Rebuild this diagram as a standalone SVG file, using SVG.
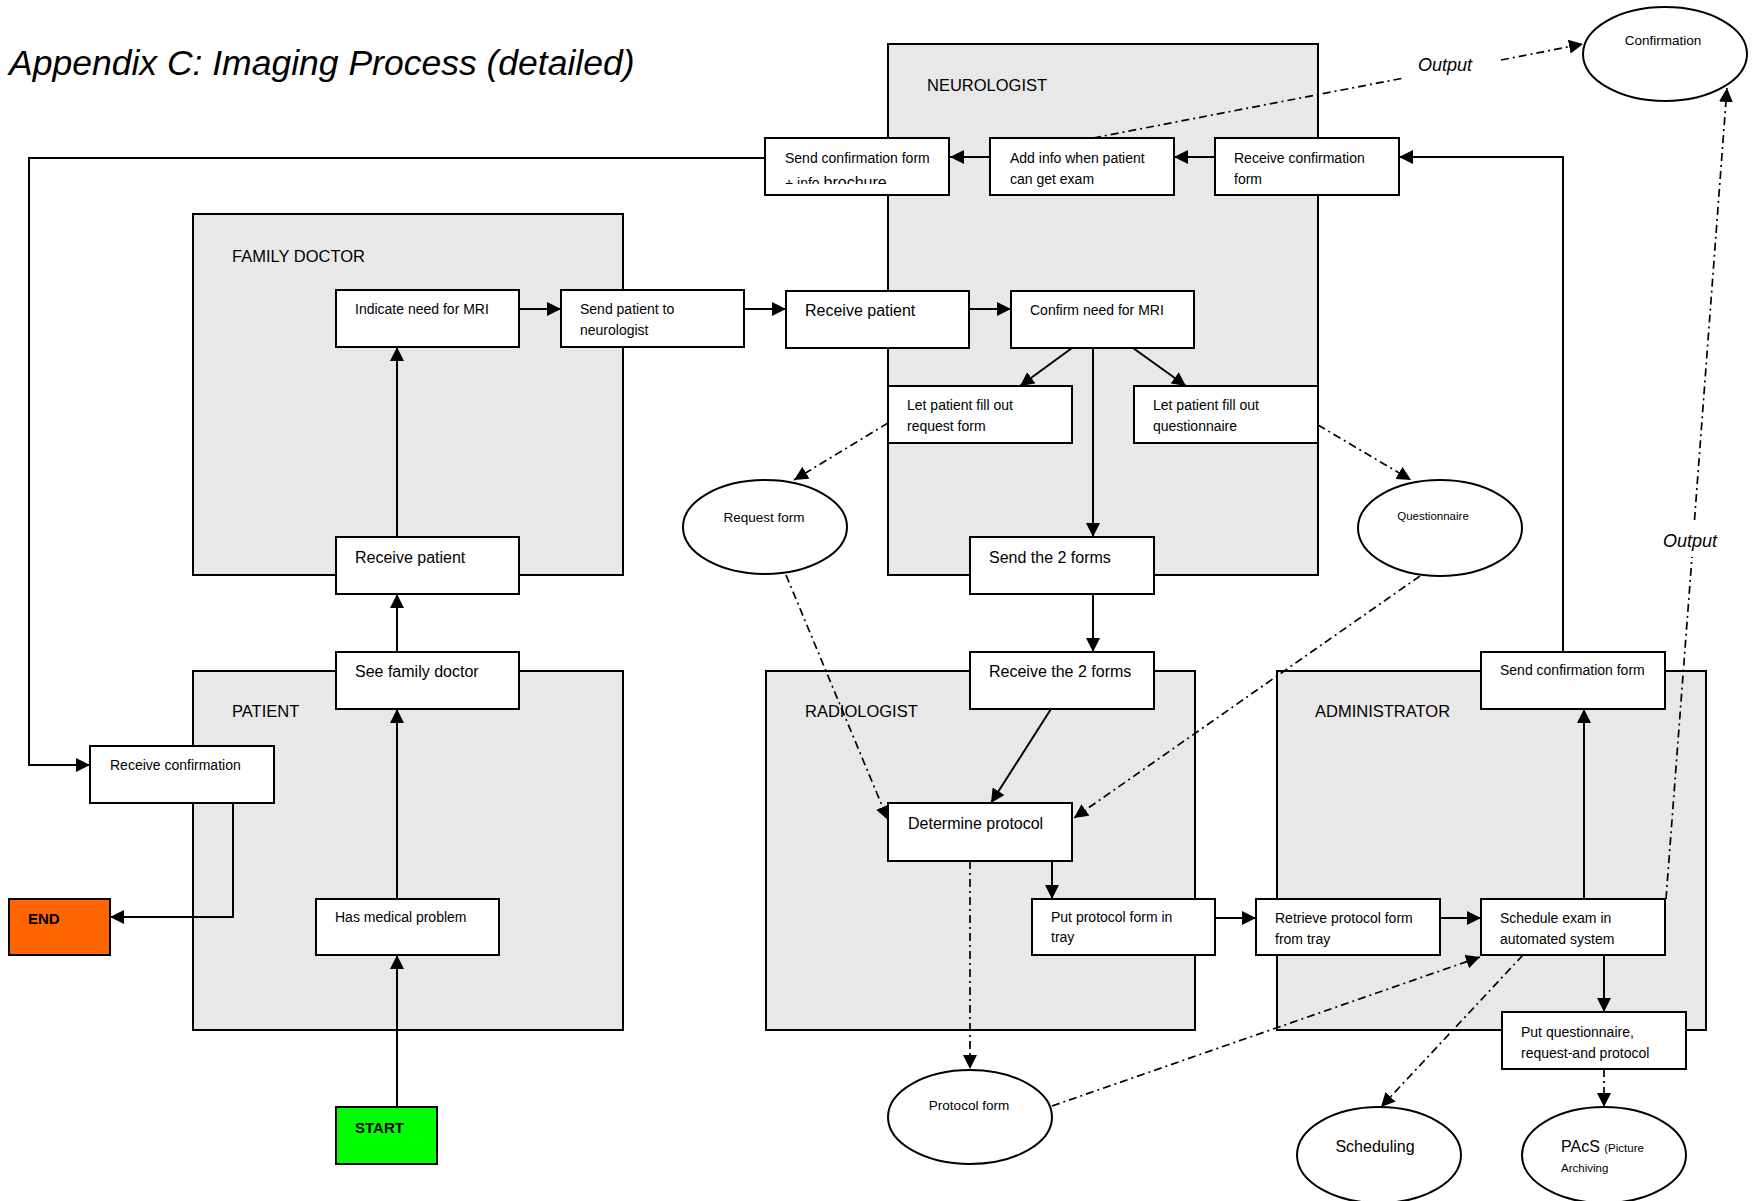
<svg xmlns="http://www.w3.org/2000/svg" width="1762" height="1201" viewBox="0 0 1762 1201">
  <style>
    text { font-family: "Liberation Sans", Arial, sans-serif; fill: #000; }
    .title { font-size: 35.5px; font-style: italic; }
    .lane rect { fill: #e8e8e8; stroke: #000; stroke-width: 2; }
    .lane text { font-size: 16.5px; }
    .box rect { fill: #fff; stroke: #000; stroke-width: 2; }
    .box ellipse { fill: #fff; stroke: #000; stroke-width: 2; }
    .s { font-size: 14px; }
    .m { font-size: 16px; }
    .xs { font-size: 11.5px; }
    .e { font-size: 13.5px; text-anchor: middle; }
    .b { font-size: 15px; font-weight: bold; }
    .out { font-size: 18px; font-style: italic; }
    .flow path { fill: none; stroke: #000; stroke-width: 2; }
    .flow path.dd { stroke-width: 1.7; stroke-dasharray: 8 4 2 4; }
  </style>
  <defs>
    <marker id="arr" markerWidth="14" markerHeight="14" refX="14" refY="7" orient="auto" markerUnits="userSpaceOnUse">
      <path d="M0,0 L14,7 L0,14 z" fill="#000"/>
    </marker>
    <clipPath id="clipBrochure"><rect x="765" y="138" width="185" height="46"/></clipPath>
  </defs>

  <rect width="1762" height="1201" fill="#fff"/>

  <text class="title" x="9" y="75">Appendix C: Imaging Process (detailed)</text>

  <!-- swimlanes -->
  <g id="lane-neurologist" class="lane"><rect x="888" y="44" width="430" height="531"/><text x="927" y="91">NEUROLOGIST</text></g>
  <g id="lane-family-doctor" class="lane"><rect x="193" y="214" width="430" height="361"/><text x="232" y="262">FAMILY DOCTOR</text></g>
  <g id="lane-patient" class="lane"><rect x="193" y="671" width="430" height="359"/><text x="232" y="717">PATIENT</text></g>
  <g id="lane-radiologist" class="lane"><rect x="766" y="671" width="429" height="359"/><text x="805" y="717">RADIOLOGIST</text></g>
  <g id="lane-administrator" class="lane"><rect x="1277" y="671" width="429" height="359"/><text x="1315" y="717">ADMINISTRATOR</text></g>

  <!-- connectors -->
  <g id="connectors" class="flow">
    <path d="M397,1107 L397,955" marker-end="url(#arr)"/>
    <path d="M397,899 L397,709" marker-end="url(#arr)"/>
    <path d="M397,652 L397,594" marker-end="url(#arr)"/>
    <path d="M397,537 L397,347" marker-end="url(#arr)"/>
    <path d="M519,309 L561,309" marker-end="url(#arr)"/>
    <path d="M744,309 L786,309" marker-end="url(#arr)"/>
    <path d="M969,309 L1011,309" marker-end="url(#arr)"/>
    <path d="M1072,348 L1020,386" marker-end="url(#arr)"/>
    <path d="M1133,348 L1186,386" marker-end="url(#arr)"/>
    <path d="M1093,348 L1093,537" marker-end="url(#arr)"/>
    <path d="M1093,594 L1093,652" marker-end="url(#arr)"/>
    <path d="M1051,709 L991,803" marker-end="url(#arr)"/>
    <path d="M1052,861 L1052,899" marker-end="url(#arr)"/>
    <path d="M1215,918 L1256,918" marker-end="url(#arr)"/>
    <path d="M1440,918 L1481,918" marker-end="url(#arr)"/>
    <path d="M1584,899 L1584,709" marker-end="url(#arr)"/>
    <path d="M1604,955 L1604,1012" marker-end="url(#arr)"/>
    <path d="M1563,652 L1563,157 L1399,157" marker-end="url(#arr)"/>
    <path d="M1215,157 L1174,157" marker-end="url(#arr)"/>
    <path d="M990,157 L950,157" marker-end="url(#arr)"/>
    <path d="M765,158 L29,158 L29,765 L90,765" marker-end="url(#arr)"/>
    <path d="M233,803 L233,917 L110,917" marker-end="url(#arr)"/>

    <!-- information flows (dash-dot) -->
    <path class="dd" d="M1093,138 L1404,78"/>
    <path class="dd" d="M1501,60 L1583,44" marker-end="url(#arr)"/>
    <path class="dd" d="M888,423 L794,480" marker-end="url(#arr)"/>
    <path class="dd" d="M1318,425 L1411,480" marker-end="url(#arr)"/>
    <path class="dd" d="M786,575 L888,820" marker-end="url(#arr)"/>
    <path class="dd" d="M1420,576 L1074,818" marker-end="url(#arr)"/>
    <path class="dd" d="M970,861 L970,1069" marker-end="url(#arr)"/>
    <path class="dd" d="M1052,1106 L1480,957" marker-end="url(#arr)"/>
    <path class="dd" d="M1523,955 L1381,1107" marker-end="url(#arr)"/>
    <path class="dd" d="M1604,1069 L1604,1107" marker-end="url(#arr)"/>
    <path class="dd" d="M1666,899 L1692,557"/>
    <path class="dd" d="M1694.5,520 L1727,88" marker-end="url(#arr)"/>
  </g>

  <text class="out" x="1418" y="71">Output</text>
  <text class="out" x="1663" y="547">Output</text>

  <!-- neurologist -->
  <g id="send-confirmation-brochure" class="box"><rect x="765" y="138" width="184" height="57"/>
    <text class="s" x="785" y="163">Send confirmation form</text>
    <text x="785" y="188" clip-path="url(#clipBrochure)"><tspan class="s">+ info </tspan><tspan class="m">brochure</tspan></text></g>
  <g id="add-info" class="box"><rect x="990" y="138" width="184" height="57"/>
    <text class="s" x="1010" y="163">Add info when patient</text><text class="s" x="1010" y="184">can get exam</text></g>
  <g id="receive-confirmation-form" class="box"><rect x="1215" y="138" width="184" height="57"/>
    <text class="s" x="1234" y="163">Receive confirmation</text><text class="s" x="1234" y="184">form</text></g>
  <g id="receive-patient-neuro" class="box"><rect x="786" y="291" width="183" height="57"/>
    <text class="m" x="805" y="316">Receive patient</text></g>
  <g id="confirm-need" class="box"><rect x="1011" y="291" width="183" height="57"/>
    <text class="s" x="1030" y="315">Confirm need for MRI</text></g>
  <g id="fill-request" class="box"><rect x="888" y="386" width="184" height="57"/>
    <text class="s" x="907" y="410">Let patient fill out</text><text class="s" x="907" y="431">request form</text></g>
  <g id="fill-questionnaire" class="box"><rect x="1134" y="386" width="184" height="57"/>
    <text class="s" x="1153" y="410">Let patient fill out</text><text class="s" x="1153" y="431">questionnaire</text></g>
  <g id="send-forms" class="box"><rect x="970" y="537" width="184" height="57"/>
    <text class="m" x="989" y="563">Send the 2 forms</text></g>

  <!-- family doctor -->
  <g id="indicate-need" class="box"><rect x="336" y="290" width="183" height="57"/>
    <text class="s" x="355" y="314">Indicate need for MRI</text></g>
  <g id="send-patient" class="box"><rect x="561" y="290" width="183" height="57"/>
    <text class="s" x="580" y="314">Send patient to</text><text class="s" x="580" y="335">neurologist</text></g>
  <g id="receive-patient-fd" class="box"><rect x="336" y="537" width="183" height="57"/>
    <text class="m" x="355" y="563">Receive patient</text></g>

  <!-- patient -->
  <g id="see-family-doctor" class="box"><rect x="336" y="652" width="183" height="57"/>
    <text class="m" x="355" y="677">See family doctor</text></g>
  <g id="receive-confirmation" class="box"><rect x="90" y="746" width="184" height="57"/>
    <text class="s" x="110" y="770">Receive confirmation</text></g>
  <g id="has-problem" class="box"><rect x="316" y="899" width="183" height="56"/>
    <text class="s" x="335" y="922">Has medical problem</text></g>
  <g id="start" class="box"><rect x="336" y="1107" width="101" height="57" style="fill:#00ff00"/>
    <text class="b" x="355" y="1133">START</text></g>
  <g id="end" class="box"><rect x="9" y="899" width="101" height="56" style="fill:#ff6600"/>
    <text class="b" x="28" y="924">END</text></g>

  <!-- radiologist -->
  <g id="receive-forms" class="box"><rect x="970" y="652" width="184" height="57"/>
    <text class="m" x="989" y="677">Receive the 2 forms</text></g>
  <g id="determine-protocol" class="box"><rect x="888" y="803" width="184" height="58"/>
    <text class="m" x="908" y="829">Determine protocol</text></g>
  <g id="put-protocol" class="box"><rect x="1032" y="899" width="183" height="56"/>
    <text class="s" x="1051" y="922">Put protocol form in</text><text class="s" x="1051" y="942">tray</text></g>

  <!-- administrator -->
  <g id="retrieve-protocol" class="box"><rect x="1256" y="899" width="184" height="56"/>
    <text class="s" x="1275" y="923">Retrieve protocol form</text><text class="s" x="1275" y="944">from tray</text></g>
  <g id="schedule-exam" class="box"><rect x="1481" y="899" width="184" height="56"/>
    <text class="s" x="1500" y="923">Schedule exam in</text><text class="s" x="1500" y="944">automated system</text></g>
  <g id="send-confirmation-form" class="box"><rect x="1481" y="652" width="184" height="57"/>
    <text class="s" x="1500" y="675">Send confirmation form</text></g>
  <g id="put-questionnaire" class="box"><rect x="1502" y="1012" width="184" height="57"/>
    <text class="s" x="1521" y="1037">Put questionnaire,</text><text class="s" x="1521" y="1058">request-and protocol</text></g>

  <!-- documents / systems -->
  <g id="doc-confirmation" class="box"><ellipse cx="1665" cy="54" rx="82" ry="47"/>
    <text class="e" x="1663" y="45">Confirmation</text></g>
  <g id="doc-request" class="box"><ellipse cx="765" cy="527" rx="82" ry="47"/>
    <text class="e" x="764" y="522">Request form</text></g>
  <g id="doc-questionnaire" class="box"><ellipse cx="1440" cy="528" rx="82" ry="48"/>
    <text class="xs" x="1433" y="520" text-anchor="middle">Questionnaire</text></g>
  <g id="doc-protocol" class="box"><ellipse cx="970" cy="1117" rx="82" ry="47"/>
    <text class="e" x="969" y="1110">Protocol form</text></g>
  <g id="sys-scheduling" class="box"><ellipse cx="1379" cy="1155" rx="82" ry="48"/>
    <text class="m" x="1375" y="1152" text-anchor="middle">Scheduling</text></g>
  <g id="sys-pacs" class="box"><ellipse cx="1604" cy="1155" rx="82" ry="48"/>
    <text x="1561" y="1152"><tspan class="m">PAcS </tspan><tspan class="xs">(Picture</tspan></text>
    <text class="xs" x="1561" y="1172">Archiving</text></g>
</svg>
